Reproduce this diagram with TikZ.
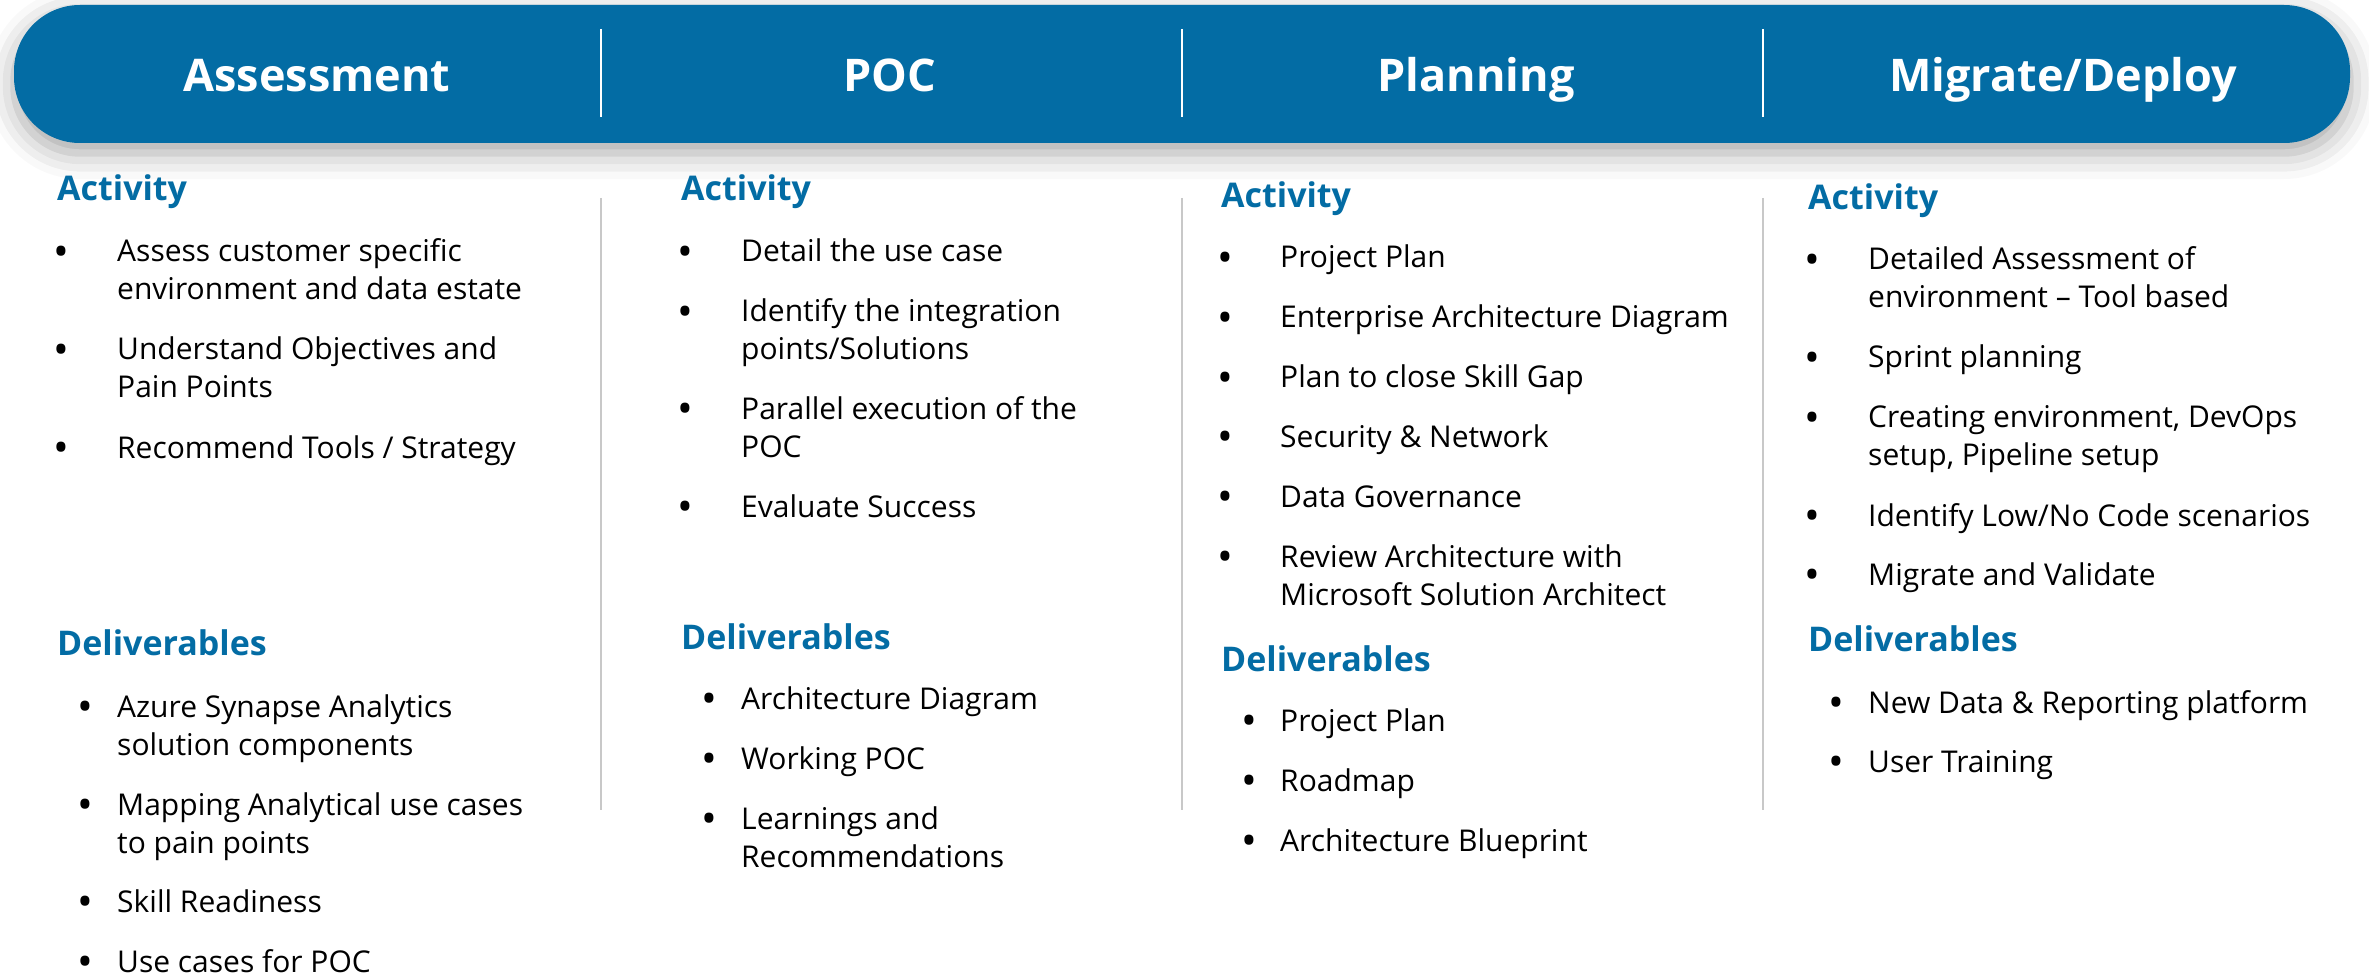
\documentclass[tikz,border=0pt]{standalone}
\usepackage{fontspec}
\setmainfont{Open Sans}
\usetikzlibrary{positioning,shadows.blur}
\definecolor{brand}{RGB}{3,108,164}
\definecolor{rulegray}{RGB}{200,200,200}
\newcommand{\itemlines}[1]{\begin{tabular}[t]{@{}l@{}}#1\end{tabular}}
\newcommand{\bigdot}{\raisebox{-4.5pt}{•}}
\tikzset{
  banner/.style={fill=brand, rounded corners=66pt, minimum width=2336pt, minimum height=138pt, inner sep=0pt,
                 blur shadow={shadow xshift=0pt, shadow yshift=-10pt, shadow blur radius=26pt, shadow opacity=35}},
  phase/.style={text=white, font=\fontsize{45}{54}\selectfont\bfseries, anchor=base, inner sep=0pt},
  sect/.style={text=brand, font=\fontsize{34}{40}\selectfont\bfseries, anchor=base west, inner sep=0pt},
  entry/.style={font=\fontsize{30}{38}\selectfont, anchor=base west, inner sep=0pt},
  bul/.style={font=\fontsize{42}{42}\selectfont, anchor=base, inner sep=0pt},
  phasesep/.style={white, line width=1.5pt},
  colrule/.style={rulegray, line width=2pt},
}

\begin{document}
\begin{tikzpicture}[x=1pt, y=-1pt]
  \useasboundingbox (0,0) rectangle (2369,973);
  \node[banner] (banner) at (1182,74) {};
  \node[phase] (ph1) at (317,92)  {Assessment};
  \node[phase] (ph2) at (890,92)  {POC};
  \node[phase] (ph3) at (1476,92) {Planning};
  \node[phase] (ph4) at (2063,92) {Migrate/Deploy};
  \foreach \x in {601,1182,1763} {
    \draw[phasesep] (\x,29) -- (\x,117);
    \draw[colrule] (\x,198) -- (\x,810);
  }

  \node[sect] (act1) at (57,201)  {Activity};
  \node[sect] (del1) at (57,655)  {Deliverables};
  \foreach \yy/\txt in {262/{Assess customer specific\\environment and data estate},
                        360/{Understand Objectives and\\Pain Points},
                        458/{Recommend Tools / Strategy}} {
    \node[bul] (ab1-\yy) at (61,\yy) {\bigdot};
    \node[entry] (at1-\yy) at (117,\yy) {\itemlines{\txt}};
  }
  \foreach \yy/\txt in {717/{Azure Synapse Analytics\\solution components},
                        815/{Mapping Analytical use cases\\to pain points},
                        912/{Skill Readiness},
                        972/{Use cases for POC}} {
    \node[bul] (db1-\yy) at (85,\yy) {\bigdot};
    \node[entry] (dt1-\yy) at (117,\yy) {\itemlines{\txt}};
  }

  \node[sect] (act2) at (681,201) {Activity};
  \node[sect] (del2) at (681,649) {Deliverables};
  \foreach \yy/\txt in {262/{Detail the use case},
                        322/{Identify the integration\\points/Solutions},
                        419/{Parallel execution of the\\POC},
                        517/{Evaluate Success}} {
    \node[bul] (ab2-\yy) at (685,\yy) {\bigdot};
    \node[entry] (at2-\yy) at (741,\yy) {\itemlines{\txt}};
  }
  \foreach \yy/\txt in {709/{Architecture Diagram},
                        769/{Working POC},
                        829/{Learnings and\\Recommendations}} {
    \node[bul] (db2-\yy) at (709,\yy) {\bigdot};
    \node[entry] (dt2-\yy) at (741,\yy) {\itemlines{\txt}};
  }

  \node[sect] (act3) at (1221,208) {Activity};
  \node[sect] (del3) at (1221,671) {Deliverables};
  \foreach \yy/\txt in {268/{Project Plan},
                        328/{Enterprise Architecture Diagram},
                        388/{Plan to close Skill Gap},
                        447/{Security \& Network},
                        507/{Data Governance},
                        567/{Review Architecture with\\Microsoft Solution Architect}} {
    \node[bul] (ab3-\yy) at (1225,\yy) {\bigdot};
    \node[entry] (at3-\yy) at (1280,\yy) {\itemlines{\txt}};
  }
  \foreach \yy/\txt in {731/{Project Plan},
                        791/{Roadmap},
                        851/{Architecture Blueprint}} {
    \node[bul] (db3-\yy) at (1249,\yy) {\bigdot};
    \node[entry] (dt3-\yy) at (1280,\yy) {\itemlines{\txt}};
  }

  \node[sect] (act4) at (1808,210) {Activity};
  \node[sect] (del4) at (1808,651) {Deliverables};
  \foreach \yy/\txt in {270/{Detailed Assessment of\\environment – Tool based},
                        368/{Sprint planning},
                        428/{Creating environment, DevOps\\setup, Pipeline setup},
                        526/{Identify Low/No Code scenarios},
                        585/{Migrate and Validate}} {
    \node[bul] (ab4-\yy) at (1812,\yy) {\bigdot};
    \node[entry] (at4-\yy) at (1868,\yy) {\itemlines{\txt}};
  }
  \foreach \yy/\txt in {713/{New Data \& Reporting platform},
                        772/{User Training}} {
    \node[bul] (db4-\yy) at (1836,\yy) {\bigdot};
    \node[entry] (dt4-\yy) at (1868,\yy) {\itemlines{\txt}};
  }
\end{tikzpicture}
\end{document}
